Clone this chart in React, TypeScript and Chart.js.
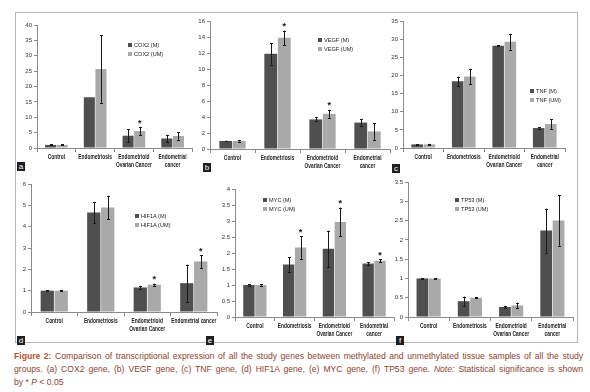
import React, { useEffect, useRef } from "react";
import { Chart, registerables } from "chart.js";
Chart.register(...registerables);

// ---------- DATA ----------
const labels4: (string | string[])[] = ["Control", "Endometriosis", ["Endometrioid", "Ovarian Cancer"], ["Endometrial", "cancer"]];
const labelsD: (string | string[])[] = ["Control", "Endometriosis", ["Endometrioid", "Ovarian Cancer"], "Endometrial cancer"];

const cox2M = [1.0, 16.5, 4.0, 3.1];
const cox2MErr = [0.15, 0, 2.1, 1.2];
const cox2UM = [1.0, 25.7, 5.5, 3.9];
const cox2UMErr = [0.15, 11.0, 1.3, 1.2];
const cox2Sig = [2];

const vegfM = [1.0, 11.9, 3.7, 3.3];
const vegfMErr = [0.05, 1.35, 0.25, 0.4];
const vegfUM = [1.0, 13.9, 4.4, 2.2];
const vegfUMErr = [0.08, 0.9, 0.5, 1.05];
const vegfSig = [1, 2];

const tnfM = [1.0, 18.4, 28.2, 5.5];
const tnfMErr = [0.1, 1.3, 0.1, 0.2];
const tnfUM = [1.0, 19.7, 29.3, 6.6];
const tnfUMErr = [0.15, 2.1, 2.2, 1.3];
const tnfSig: number[] = [];

const hif1aM = [1.0, 4.66, 1.15, 1.35];
const hif1aMErr = [0.01, 0.5, 0.08, 0.87];
const hif1aUM = [1.0, 4.9, 1.28, 2.37];
const hif1aUMErr = [0.01, 0.55, 0.05, 0.3];
const hif1aSig = [2, 3];

const mycM = [1.0, 1.64, 2.13, 1.67];
const mycMErr = [0.02, 0.23, 0.57, 0.05];
const mycUM = [1.0, 2.17, 2.97, 1.76];
const mycUMErr = [0.02, 0.35, 0.45, 0.05];
const mycSig = [1, 2, 3];

const tp53M = [1.0, 0.41, 0.26, 2.24];
const tp53MErr = [0.01, 0.12, 0.03, 0.57];
const tp53UM = [1.0, 0.5, 0.3, 2.5];
const tp53UMErr = [0.01, 0.02, 0.07, 0.65];
const tp53Sig: number[] = [];

// ---------- STYLE ----------
const DARK = "#4f4f4f";
const LIGHT = "#a9a9a9";
const AXIS = "#8a8a8a";
const FONT = "'Liberation Sans', Arial, sans-serif";

type Panel = {
  letter: string;
  labels: (string | string[])[];
  m: number[]; mErr: number[]; um: number[]; umErr: number[];
  sig: number[];
  gene: string;
  max: number; step: number;
  L: number; R: number; T: number; B: number;
  legX: number; legY: number;
  tagX: number; tagY: number;
};

const panels: Panel[] = [
  { letter: "a", labels: labels4, m: cox2M, mErr: cox2MErr, um: cox2UM, umErr: cox2UMErr, sig: cox2Sig, gene: "COX2",
    max: 40, step: 5, L: 37, R: 192, T: 25, B: 148, legX: 128, legY: 41, tagX: 17, tagY: 162 },
  { letter: "b", labels: labels4, m: vegfM, mErr: vegfMErr, um: vegfUM, umErr: vegfUMErr, sig: vegfSig, gene: "VEGF",
    max: 16, step: 2, L: 210, R: 390, T: 21, B: 149, legX: 318, legY: 36, tagX: 203, tagY: 163 },
  { letter: "c", labels: labels4, m: tnfM, mErr: tnfMErr, um: tnfUM, umErr: tnfUMErr, sig: tnfSig, gene: "TNF",
    max: 35, step: 5, L: 403, R: 565, T: 21, B: 148, legX: 530, legY: 87, tagX: 392, tagY: 164 },
  { letter: "d", labels: labelsD, m: hif1aM, mErr: hif1aMErr, um: hif1aUM, umErr: hif1aUMErr, sig: hif1aSig, gene: "HIF1A",
    max: 6, step: 1, L: 31, R: 217, T: 184, B: 312, legX: 135, legY: 212, tagX: 17, tagY: 336 },
  { letter: "e", labels: labels4, m: mycM, mErr: mycMErr, um: mycUM, umErr: mycUMErr, sig: mycSig, gene: "MYC",
    max: 4, step: 0.5, L: 235, R: 394, T: 189, B: 317, legX: 263, legY: 196, tagX: 206, tagY: 336 },
  { letter: "f", labels: labels4, m: tp53M, mErr: tp53MErr, um: tp53UM, umErr: tp53UMErr, sig: tp53Sig, gene: "TP53",
    max: 3.5, step: 0.5, L: 408, R: 573, T: 182, B: 317, legX: 455, legY: 196, tagX: 396, tagY: 336 },
];

const PAD_L = 30, PAD_T = 8, PAD_R = 8, PAD_B = 26;

function BarPanel({ p }: { p: Panel }) {
  const ref = useRef<HTMLCanvasElement>(null);
  const W = p.R - p.L + PAD_L + PAD_R;
  const H = p.B - p.T + PAD_T + PAD_B;
  useEffect(() => {
    const errs = [p.mErr, p.umErr];
    const vals = [p.m, p.um];
    const drawPlugin = {
      id: "errbars" + p.letter,
      afterDatasetsDraw(chart: any) {
        const ctx = chart.ctx;
        const y = chart.scales.y;
        ctx.save();
        ctx.strokeStyle = "#1a1a1a";
        ctx.lineWidth = 1;
        for (let d = 0; d < 2; d++) {
          const meta = chart.getDatasetMeta(d);
          meta.data.forEach((el: any, i: number) => {
            const v = vals[d][i];
            const e = errs[d][i];
            if (!e) return;
            const x = Math.round(el.x) + 0.5;
            const yt = y.getPixelForValue(v + e);
            const yb = y.getPixelForValue(Math.max(0, v - e));
            ctx.beginPath();
            ctx.moveTo(x, yt);
            ctx.lineTo(x, yb);
            ctx.moveTo(x - 1.5, Math.round(yt) + 0.5);
            ctx.lineTo(x + 1.5, Math.round(yt) + 0.5);
            ctx.moveTo(x - 1.5, Math.round(yb) + 0.5);
            ctx.lineTo(x + 1.5, Math.round(yb) + 0.5);
            ctx.stroke();
          });
        }
        // significance asterisks above the UM bars
        const metaUM = chart.getDatasetMeta(1);
        ctx.fillStyle = "#111";
        ctx.font = "bold 9px " + FONT;
        ctx.textAlign = "center";
        ctx.textBaseline = "middle";
        p.sig.forEach((i) => {
          const el = metaUM.data[i];
          const top = y.getPixelForValue(vals[1][i] + errs[1][i]);
          ctx.fillText("*", el.x, top - 4);
        });
        ctx.restore();
      },
      afterDraw(chart: any) {
        // condensed category labels (Calibri-like) under the x axis
        const ctx = chart.ctx;
        const xs = chart.scales.x;
        const base = chart.chartArea.bottom;
        ctx.save();
        ctx.fillStyle = "#222";
        ctx.font = "bold 6.4px " + FONT;
        ctx.textAlign = "center";
        ctx.textBaseline = "middle";
        (chart.data.labels as any[]).forEach((lab: any, i: number) => {
          const lines = Array.isArray(lab) ? lab : [lab];
          const cx = xs.getPixelForValue(i);
          lines.forEach((t: string, k: number) => {
            ctx.save();
            ctx.translate(cx, base + 9 + k * 8);
            ctx.scale(0.76, 1);
            ctx.fillText(t, 0, 0);
            ctx.restore();
          });
        });
        ctx.restore();
      },
    };
    const chart = new Chart(ref.current!, {
      type: "bar",
      data: {
        labels: p.labels as any,
        datasets: [
          { label: p.gene + " (M)", data: p.m, backgroundColor: DARK, barPercentage: 0.95, categoryPercentage: 0.6 },
          { label: p.gene + " (UM)", data: p.um, backgroundColor: LIGHT, barPercentage: 0.95, categoryPercentage: 0.6 },
        ],
      },
      options: {
        animation: false,
        responsive: false,
        maintainAspectRatio: false,
        layout: { padding: { left: 0, top: PAD_T, right: PAD_R, bottom: 0 } },
        plugins: { legend: { display: false }, tooltip: { enabled: false } },
        scales: {
          x: {
            offset: true,
            grid: { display: true, offset: true, drawOnChartArea: false, drawTicks: true, tickLength: 4, color: AXIS },
            border: { display: true, color: AXIS },
            ticks: { display: false },
            afterFit: (s: any) => { s.height = PAD_B; },
          },
          y: {
            min: 0, max: p.max,
            grid: { display: true, drawOnChartArea: false, drawTicks: true, tickLength: 3, color: AXIS },
            border: { display: true, color: AXIS },
            ticks: {
              stepSize: p.step, padding: 2, color: "#333",
              font: { family: FONT, size: 6 },
              callback: (v: any) => String(v),
            },
            afterFit: (s: any) => { s.width = PAD_L; },
          },
        },
      } as any,
      plugins: [drawPlugin],
    });
    return () => chart.destroy();
  }, []);
  return (
    <>
      <canvas ref={ref} width={W} height={H}
        style={{ position: "absolute", left: p.L - PAD_L, top: p.T - PAD_T, width: W, height: H }} />
      <div style={{ position: "absolute", left: p.legX, top: p.legY, fontFamily: FONT, fontSize: 5.6, lineHeight: "9px", color: "#222", whiteSpace: "nowrap" }}>
        <div><span style={{ display: "inline-block", width: 4, height: 4, background: DARK, marginRight: 2 }} />{p.gene} (M)</div>
        <div><span style={{ display: "inline-block", width: 4, height: 4, background: LIGHT, marginRight: 2 }} />{p.gene} (UM)</div>
      </div>
      <div style={{ position: "absolute", left: p.tagX, top: p.tagY, width: 8, height: 9, background: "#1e1e1e", color: "#fff",
        fontFamily: "'Liberation Sans', sans-serif", fontSize: 8, lineHeight: "9px", textAlign: "center" }}>{p.letter}</div>
    </>
  );
}

export default function App() {
  const capBase: React.CSSProperties = {
    whiteSpace: "nowrap", textAlign: "justify", height: 13,
  };
  return (
    <div style={{ position: "fixed", left: 0, top: 0, width: 590, height: 392, background: "#fff", overflow: "hidden" }}>
      <div style={{ position: "absolute", left: 15, top: 12, width: 563, height: 331, border: "1px solid #b5b5b5", boxSizing: "border-box" }} />
      {panels.map((p) => <BarPanel key={p.letter} p={p} />)}
      <div style={{ position: "absolute", left: 14, top: 350, width: 569, fontFamily: "'Liberation Sans', Arial, sans-serif", fontSize: 8.6, lineHeight: "13px", color: "#8e3f2e" }}>
        <div style={{ ...capBase, textAlignLast: "justify" } as any}>
          <b style={{ color: "#b8532b" }}>Figure 2:</b> Comparison of transcriptional expression of all the study genes between methylated and unmethylated tissue samples of all the study
        </div>
        <div style={{ ...capBase, textAlignLast: "justify" } as any}>
          groups. (a) COX2 gene, (b) VEGF gene, (c) TNF gene, (d) HIF1A gene, (e) MYC gene, (f) TP53 gene. <i>Note:</i> Statistical significance is shown
        </div>
        <div style={capBase}>by * <i>P</i> &lt; 0.05</div>
      </div>
    </div>
  );
}
